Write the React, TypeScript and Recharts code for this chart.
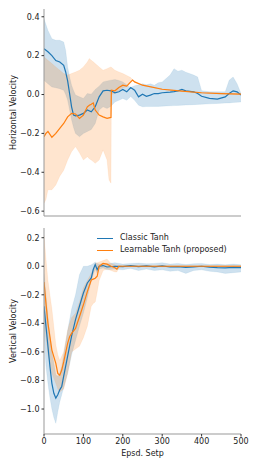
import { ComposedChart, Line, Area, XAxis, YAxis } from 'recharts'

// x positions (episode step) for each series
const hBlueX = [0, 10, 20, 30, 40, 50, 55, 60, 65, 70, 75, 80, 90, 100, 110, 120, 130, 140, 150, 160, 170, 180, 190, 200, 210, 220, 230, 240, 250, 260, 270, 280, 290, 300, 320, 330, 340, 350, 360, 380, 390, 400, 420, 440, 460, 470, 480, 490, 500]
const hBlueMean = [0.236, 0.22, 0.2, 0.175, 0.167, 0.15, 0.116, 0.07, 0.005, -0.063, -0.106, -0.11, -0.106, -0.097, -0.08, -0.089, -0.063, -0.012, 0.019, 0.022, 0.019, 0.009, 0.014, 0.026, 0.014, 0.036, 0.022, -0.012, 0.002, -0.009, -0.003, 0.005, 0.005, 0.009, 0.012, 0.015, 0.019, 0.026, 0.019, 0.014, 0.005, -0.009, -0.02, -0.024, -0.012, 0.005, 0.019, 0.014, -0.003]
const hBlueHigh = [0.39, 0.33, 0.287, 0.279, 0.279, 0.27, 0.227, 0.142, 0.09, 0.048, 0.02, -0.003, -0.012, -0.02, 0.005, 0.002, 0.026, 0.043, 0.065, 0.07, 0.074, 0.077, 0.072, 0.065, 0.05, 0.036, 0.045, 0.05, 0.056, 0.05, 0.055, 0.048, 0.06, 0.065, 0.1, 0.133, 0.12, 0.125, 0.115, 0.1, 0.09, 0.02, 0.014, 0.014, 0.014, 0.074, 0.09, 0.056, 0.005]
const hBlueLow = [0.073, 0.055, 0.039, 0.035, 0.03, 0.022, 0.0, -0.03, -0.08, -0.13, -0.17, -0.2, -0.217, -0.2, -0.19, -0.18, -0.149, -0.08, -0.063, -0.072, -0.06, -0.038, -0.03, -0.02, -0.03, -0.01, -0.03, -0.055, -0.063, -0.062, -0.062, -0.061, -0.061, -0.06, -0.058, -0.057, -0.056, -0.055, -0.054, -0.052, -0.051, -0.05, -0.048, -0.046, -0.044, -0.043, -0.041, -0.04, -0.038]

const hOrangeX = [0, 5, 10, 20, 30, 40, 50, 60, 70, 80, 90, 100, 110, 115, 120, 125, 130, 140, 150, 160, 165, 170, 171, 180, 190, 200, 210, 220, 225, 230, 250, 300, 350, 400, 450, 500]
const hOrangeMean = [-0.217, -0.2, -0.19, -0.22, -0.2, -0.174, -0.149, -0.115, -0.097, -0.1, -0.123, -0.106, -0.063, -0.055, -0.05, -0.043, -0.08, -0.106, -0.115, -0.123, -0.12, -0.118, 0.022, 0.019, 0.036, 0.048, 0.043, 0.065, 0.074, 0.065, 0.048, 0.027, 0.017, 0.009, 0.005, 0.002]
const hOrangeHigh = [0.193, 0.185, 0.176, 0.159, 0.142, 0.125, 0.108, 0.1, 0.108, 0.116, 0.125, 0.142, 0.167, 0.185, 0.176, 0.168, 0.159, 0.142, 0.125, 0.133, 0.138, 0.142, 0.14, 0.125, 0.116, 0.108, 0.098, 0.087, 0.076, 0.067, 0.05, 0.029, 0.019, 0.011, 0.007, 0.004]
const hOrangeLow = [-0.56, -0.54, -0.49, -0.49, -0.465, -0.42, -0.39, -0.337, -0.294, -0.268, -0.3, -0.337, -0.32, -0.33, -0.337, -0.345, -0.354, -0.337, -0.285, -0.337, -0.44, -0.456, 0.0, 0.005, 0.02, 0.035, 0.04, 0.06, 0.072, 0.063, 0.046, 0.025, 0.015, 0.007, 0.003, 0.0]

const vBlueX = [0, 5, 10, 15, 20, 25, 30, 35, 40, 45, 50, 60, 70, 80, 90, 100, 110, 120, 125, 130, 135, 140, 150, 160, 180, 200, 220, 240, 260, 280, 300, 320, 340, 360, 380, 400, 420, 440, 460, 480, 500]
const vBlueMean = [-0.28, -0.42, -0.56, -0.7, -0.82, -0.89, -0.924, -0.9, -0.866, -0.842, -0.77, -0.63, -0.49, -0.374, -0.28, -0.187, -0.117, -0.082, -0.023, 0.012, -0.023, 0.0, 0.005, -0.005, 0.0, -0.003, 0.004, -0.002, 0.003, -0.004, 0.002, -0.005, -0.003, -0.008, -0.004, 0.0, -0.006, -0.01, -0.012, -0.008, -0.01]
const vBlueHigh = [-0.05, -0.2, -0.35, -0.48, -0.6, -0.68, -0.76, -0.77, -0.75, -0.7, -0.62, -0.45, -0.3, -0.2, -0.06, 0.0, 0.0, 0.01, 0.02, 0.03, 0.02, 0.015, 0.02, 0.018, 0.025, 0.015, 0.02, 0.022, 0.018, 0.02, 0.025, 0.015, 0.02, 0.012, 0.018, 0.02, 0.012, 0.015, 0.01, 0.015, 0.01]
const vBlueLow = [-0.45, -0.7, -0.82, -0.92, -1.0, -1.06, -1.1, -1.02, -0.95, -0.9, -0.85, -0.75, -0.62, -0.52, -0.42, -0.33, -0.22, -0.1, -0.06, -0.02, -0.05, -0.02, -0.012, -0.025, -0.02, -0.025, -0.015, -0.03, -0.02, -0.03, -0.025, -0.035, -0.03, -0.05, -0.03, -0.025, -0.035, -0.04, -0.05, -0.045, -0.04]

const vOrangeX = [0, 5, 10, 20, 30, 35, 40, 45, 50, 60, 65, 70, 80, 90, 100, 110, 120, 125, 130, 135, 140, 150, 160, 170, 180, 185, 190, 200, 300, 400, 500]
const vOrangeMean = [-0.11, -0.26, -0.4, -0.587, -0.68, -0.75, -0.763, -0.727, -0.67, -0.54, -0.494, -0.47, -0.435, -0.354, -0.27, -0.178, -0.096, -0.09, -0.084, -0.07, 0.0, 0.02, 0.015, 0.0, -0.01, -0.02, 0.0, 0.0, 0.0, 0.0, 0.0]
const vOrangeHigh = [0.22, 0.05, -0.1, -0.3, -0.55, -0.62, -0.66, -0.63, -0.6, -0.45, -0.4, -0.36, -0.33, -0.25, -0.15, -0.1, -0.05, -0.02, 0.02, 0.025, 0.03, 0.04, 0.05, 0.02, 0.01, 0.005, 0.005, 0.004, 0.004, 0.004, 0.004]
const vOrangeLow = [-0.35, -0.5, -0.62, -0.75, -0.82, -0.86, -0.88, -0.87, -0.86, -0.75, -0.68, -0.6, -0.58, -0.56, -0.5, -0.42, -0.28, -0.26, -0.25, -0.18, -0.1, -0.03, -0.02, -0.03, -0.04, -0.04, -0.01, -0.004, -0.004, -0.004, -0.004]

const xTicks = [0, 100, 200, 300, 400, 500]
const hTicks = [-0.6, -0.4, -0.2, 0.0, 0.2, 0.4]
const vTicks = [-1.0, -0.8, -0.6, -0.4, -0.2, 0.0, 0.2]

const BLUE = '#1f77b4'
const ORANGE = '#ff7f0e'
const FRAME = '#999'
const FONT = 'DejaVu Sans, sans-serif'
const FS = 8

const rows = (xs: number[], mean: number[], lo: number[], hi: number[]) =>
  xs.map((x, i) => ({ x, mean: mean[i], band: [lo[i], hi[i]] }))

const fmt = (v: number) => (v < 0 ? '\u2212' : '') + Math.abs(v).toFixed(1)
const tickStyle = { fontSize: FS, fill: '#222', fontFamily: FONT }
const labelStyle = { fontSize: FS, fill: '#222', fontFamily: FONT, textAnchor: 'middle' as const }

function Panel({
  top,
  height,
  bottom,
  domain,
  ticks,
  label,
  showX,
  blue,
  orange,
  children,
}: {
  top: number
  height: number
  bottom: number
  domain: [number, number]
  ticks: number[]
  label: string
  showX: boolean
  blue: any[]
  orange: any[]
  children?: any
}) {
  return (
    <div style={{ position: 'absolute', left: 0, top, width: 258, height }}>
      <ComposedChart width={258} height={height} margin={{ top: 0, right: 17, left: 0, bottom: 0 }}>
        <XAxis
          dataKey="x"
          type="number"
          domain={[0, 500]}
          ticks={xTicks}
          allowDataOverflow
          height={bottom}
          tick={showX ? tickStyle : false}
          tickSize={2.5}
          stroke={FRAME}
          tickLine={{ stroke: '#333' }}
          label={showX ? { value: 'Epsd. Setp', position: 'insideBottom', offset: 10, style: labelStyle } : undefined}
        />
        <XAxis xAxisId="t" dataKey="x" type="number" domain={[0, 500]} orientation="top" height={0} tick={false} tickLine={false} stroke={FRAME} />
        <YAxis
          type="number"
          domain={domain}
          ticks={ticks}
          allowDataOverflow
          width={44}
          tick={tickStyle}
          tickSize={2.5}
          tickFormatter={fmt}
          stroke={FRAME}
          tickLine={{ stroke: '#333' }}
          label={{ value: label, angle: -90, position: 'insideLeft', offset: 13, style: labelStyle }}
        />
        <YAxis yAxisId="r" orientation="right" width={0} domain={domain} tick={false} tickLine={false} stroke={FRAME} />
        <Area data={blue} dataKey="band" type="linear" stroke={BLUE} strokeOpacity={0.15} strokeWidth={0.5} fill={BLUE} fillOpacity={0.22} isAnimationActive={false} />
        <Line data={blue} dataKey="mean" type="linear" stroke={BLUE} strokeWidth={1.2} dot={false} isAnimationActive={false} />
        <Area data={orange} dataKey="band" type="linear" stroke={ORANGE} strokeOpacity={0.15} strokeWidth={0.5} fill={ORANGE} fillOpacity={0.2} isAnimationActive={false} />
        <Line data={orange} dataKey="mean" type="linear" stroke={ORANGE} strokeWidth={1.2} dot={false} isAnimationActive={false} />
      </ComposedChart>
      {children}
    </div>
  )
}

function LegendBox() {
  const item = (color: string, text: string) => (
    <div style={{ display: 'flex', alignItems: 'center', height: 12 }}>
      <div style={{ width: 16, height: 0, borderTop: `1.2px solid ${color}`, marginRight: 7 }} />
      <span>{text}</span>
    </div>
  )
  return (
    <div style={{ position: 'absolute', left: 97, top: 4, fontSize: FS, fontFamily: FONT, color: '#222', lineHeight: '12px' }}>
      {item(BLUE, 'Classic Tanh')}
      {item(ORANGE, 'Learnable Tanh (proposed)')}
    </div>
  )
}

export default function App() {
  return (
    <div style={{ position: 'absolute', left: 0, top: 0, width: 258, height: 466, background: '#fff' }}>
      <Panel
        top={9}
        height={224}
        bottom={17}
        domain={[-0.625, 0.44]}
        ticks={hTicks}
        label="Horizontal Velocity"
        showX={false}
        blue={rows(hBlueX, hBlueMean, hBlueLow, hBlueHigh)}
        orange={rows(hOrangeX, hOrangeMean, hOrangeLow, hOrangeHigh)}
      />
      <Panel
        top={228}
        height={238}
        bottom={32}
        domain={[-1.175, 0.268]}
        ticks={vTicks}
        label="Vertical Velocity"
        showX
        blue={rows(vBlueX, vBlueMean, vBlueLow, vBlueHigh)}
        orange={rows(vOrangeX, vOrangeMean, vOrangeLow, vOrangeHigh)}
      >
        <LegendBox />
      </Panel>
    </div>
  )
}
